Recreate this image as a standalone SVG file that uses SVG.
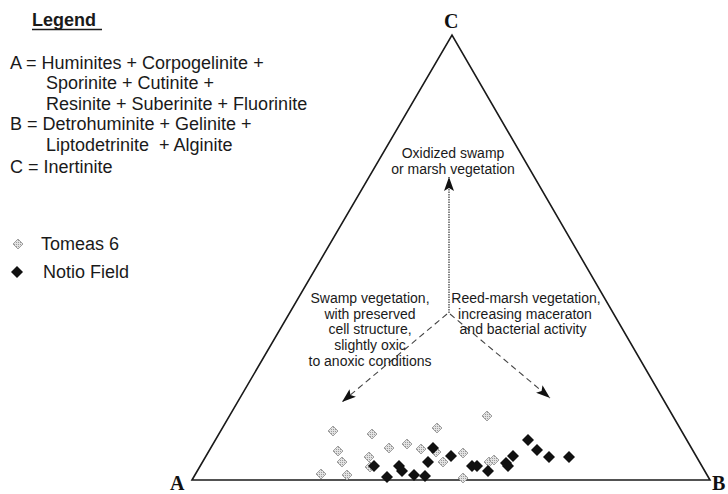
<svg xmlns="http://www.w3.org/2000/svg" xmlns:xlink="http://www.w3.org/1999/xlink" width="728" height="494" viewBox="0 0 728 494">
<style>
  .lg { font-family: "Liberation Sans", Arial, sans-serif; font-size: 18px; fill: #1a1a1a; }
  .an { font-family: "Liberation Sans", Arial, sans-serif; font-size: 14px; fill: #1a1a1a; text-anchor: middle; }
  .vx { font-family: "Liberation Serif", "Times New Roman", serif; font-size: 20px; font-weight: bold; fill: #111; }
  .edge { fill: none; stroke: #1a1a1a; stroke-width: 1.6; stroke-linejoin: miter; }
  .dash { fill: none; stroke: #444; stroke-width: 1.1; stroke-dasharray: 6 4; }
  .dot { fill: none; stroke: #444; stroke-width: 1.3; stroke-dasharray: 1.5 1; }
</style>
<defs>
  <pattern id="hatch" width="2" height="2" patternUnits="userSpaceOnUse">
    <rect width="2" height="2" fill="#e2e2e2"/>
    <rect width="1" height="1" fill="#9c9c9c"/>
  </pattern>
  <path id="gd" d="M0,-5 L5,0 L0,5 L-5,0 Z" fill="url(#hatch)" stroke="#a0a0a0" stroke-width="1"/>
  <path id="bd" d="M0,-6 L6,0 L0,6 L-6,0 Z" fill="#111"/>
  <marker id="ah" viewBox="0 0 14 10" refX="14" refY="5" markerWidth="14" markerHeight="10" markerUnits="userSpaceOnUse" orient="auto">
    <path d="M0,0 L14,5 L0,10 L3,5 Z" fill="#111"/>
  </marker>
</defs>
<rect width="728" height="494" fill="#ffffff"/>

<g id="legend">
  <text class="lg" x="32" y="26" font-weight="bold" font-size="19">Legend</text>
  <line x1="32" y1="29.5" x2="102" y2="29.5" stroke="#1a1a1a" stroke-width="1.5"/>
  <text class="lg" x="10" y="69">A = Huminites + Corpogelinite +</text>
  <text class="lg" x="46" y="89">Sporinite + Cutinite +</text>
  <text class="lg" x="46" y="110">Resinite + Suberinite + Fluorinite</text>
  <text class="lg" x="10" y="130">B = Detrohuminite + Gelinite +</text>
  <text class="lg" x="46" y="151" xml:space="preserve">Liptodetrinite  + Alginite</text>
  <text class="lg" x="10" y="173">C = Inertinite</text>
</g>

<g id="key">
  <g id="key-tomeas">
    <use xlink:href="#gd" href="#gd" x="18" y="244"/>
    <text class="lg" x="41" y="250" font-size="17">Tomeas 6</text>
  </g>
  <g id="key-notio">
    <use xlink:href="#bd" href="#bd" x="17" y="272"/>
    <text class="lg" x="43" y="278">Notio Field</text>
  </g>
</g>

<g id="triangle">
  <path class="edge" d="M192,480 L452,35 L710,480 Z"/>
  <text class="vx" x="444" y="28">C</text>
  <text class="vx" x="170" y="490">A</text>
  <text class="vx" x="712" y="490">B</text>
</g>

<g id="connectors">
  <line class="dot" x1="449" y1="313" x2="449" y2="177" marker-end="url(#ah)"/>
  <line class="dash" x1="447" y1="314" x2="342" y2="402" marker-end="url(#ah)"/>
  <line class="dash" x1="450" y1="314" x2="550" y2="398" marker-end="url(#ah)"/>
</g>

<g id="oxidized">
  <text class="an" x="453" y="158">Oxidized swamp</text>
  <text class="an" x="453" y="174">or marsh vegetation</text>
</g>

<g id="swamp">
  <text class="an" x="370" y="303">Swamp vegetation,</text>
  <text class="an" x="370" y="319">with preserved</text>
  <text class="an" x="370" y="334">cell structure,</text>
  <text class="an" x="370" y="350">slightly oxic</text>
  <text class="an" x="370" y="366">to anoxic conditions</text>
</g>

<g id="reedmarsh">
  <text class="an" x="526" y="303">Reed-marsh vegetation,</text>
  <text class="an" x="525" y="319">increasing maceraton</text>
  <text class="an" x="523" y="334">and bacterial activity</text>
</g>

<g id="tomeas-points">
  <use href="#gd" x="333" y="431"/>
  <use href="#gd" x="372" y="434"/>
  <use href="#gd" x="437" y="428"/>
  <use href="#gd" x="487" y="416"/>
  <use href="#gd" x="389" y="448"/>
  <use href="#gd" x="407" y="444"/>
  <use href="#gd" x="421" y="449"/>
  <use href="#gd" x="338" y="451"/>
  <use href="#gd" x="342" y="462"/>
  <use href="#gd" x="369" y="457"/>
  <use href="#gd" x="370" y="467"/>
  <use href="#gd" x="321" y="474"/>
  <use href="#gd" x="347" y="475"/>
  <use href="#gd" x="443" y="462"/>
  <use href="#gd" x="463" y="453"/>
  <use href="#gd" x="489" y="462"/>
  <use href="#gd" x="494" y="460"/>
  <use href="#gd" x="463" y="478"/>
  <use href="#gd" x="436" y="452"/>
</g>

<g id="notio-points">
  <use href="#bd" x="433" y="448"/>
  <use href="#bd" x="451" y="456"/>
  <use href="#bd" x="428" y="462"/>
  <use href="#bd" x="374" y="466"/>
  <use href="#bd" x="399" y="466"/>
  <use href="#bd" x="402" y="471"/>
  <use href="#bd" x="387" y="477"/>
  <use href="#bd" x="414" y="475"/>
  <use href="#bd" x="425" y="476"/>
  <use href="#bd" x="472" y="466"/>
  <use href="#bd" x="477" y="466"/>
  <use href="#bd" x="488" y="471"/>
  <use href="#bd" x="506" y="463"/>
  <use href="#bd" x="508" y="466"/>
  <use href="#bd" x="513" y="456"/>
  <use href="#bd" x="528" y="440"/>
  <use href="#bd" x="537" y="450"/>
  <use href="#bd" x="549" y="457"/>
  <use href="#bd" x="569" y="457"/>
</g>
</svg>
